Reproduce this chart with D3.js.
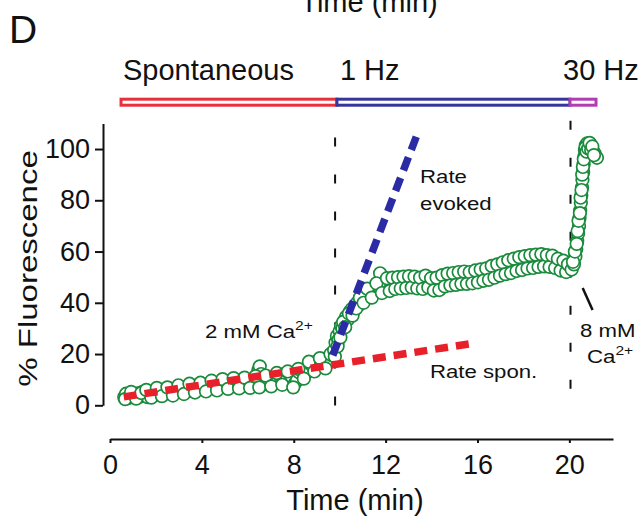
<!DOCTYPE html>
<html lang="en">
<head>
<meta charset="UTF-8">
<title>Fluorescence vs time</title>
<script src="https://d3js.org/d3.v7.min.js"></script>
<style>
  body, html { margin: 0; background: #fff; }
  svg { display: block; font-family: 'Liberation Sans', Arial, sans-serif; }
  .axis path, .axis line { stroke: #111; stroke-width: 2; }
  .axis text { font-family: 'Liberation Sans', Arial, sans-serif; font-size: 27px; fill: #111; }
  .lbl { fill: #111; }
</style>
</head>
<body>
<svg id="chart" width="644" height="516"></svg>
<script>
// stimulation phases (minutes)
const phaseNames = ["Spontaneous", "1 Hz", "30 Hz"];
const phaseStart = [0.48, 9.88, 20.03];
const phaseEnd = [9.88, 20.03, 21.16];
const phaseColors = ["#e8303c", "#35359c", "#b23cb4"];

// Ca2+ change markers (minutes)
const markerTimes = [9.8, 20.05];

// fitted rates: [time, % fluorescence]
const rateSpon = [[0.6, 3.3], [15.9, 24.3]];
const rateEvoked = [[9.7, 19.5], [13.42, 106.8]];

const yTicks = [0, 20, 40, 60, 80, 100];
const xTicks = [0, 4, 8, 12, 16, 20];

// measured fluorescence: [time (min), %]
const spontaneous = [
  [0.62, 3.2], [0.7, 4.5], [0.78, 2.8], [0.88, 3.6], [0.98, 4.2], [1.08, 3.0], [1.2, 4.6], [1.3, 3.4],
  [1.42, 5.2], [1.52, 4.0], [1.64, 3.2], [1.75, 5.0], [1.86, 4.4], [1.98, 5.8], [2.1, 4.2], [2.2, 5.4],
  [2.32, 6.0], [2.44, 4.6], [2.56, 5.6], [2.68, 6.4], [2.8, 5.0], [2.92, 6.2], [3.04, 7.2], [3.16, 5.6],
  [3.28, 6.6], [3.4, 7.6], [3.52, 5.8], [3.64, 6.8], [3.76, 7.8], [3.88, 6.4], [4.0, 7.2], [4.12, 8.2],
  [4.24, 6.6], [4.36, 7.6], [4.48, 8.6], [4.6, 7.0], [4.72, 8.0], [4.84, 9.0], [4.96, 7.4], [5.08, 8.4],
  [5.2, 9.2], [5.32, 7.8], [5.44, 8.8], [5.56, 9.6], [5.68, 8.2], [5.8, 9.0], [5.92, 7.6], [6.04, 8.6],
  [6.16, 9.8], [6.28, 8.4], [6.38, 10.6], [6.46, 13.8], [6.52, 15.2], [6.58, 12.2], [6.64, 10.0], [6.72, 8.2],
  [6.84, 10.4], [6.96, 9.2], [7.08, 10.8], [7.2, 11.6], [7.32, 9.8], [7.44, 11.2], [7.56, 12.2], [7.68, 10.6],
  [7.8, 12.4], [7.92, 11.0], [8.04, 8.4], [8.14, 9.6], [8.24, 12.8], [8.36, 13.6], [8.48, 12.0], [8.6, 14.6],
  [8.72, 16.2], [8.84, 15.0], [8.96, 17.0], [9.08, 15.6], [9.2, 17.6], [9.32, 16.4], [9.44, 18.4], [9.56, 17.2],
  [9.66, 19.6],
  [0.66, 2.4], [0.92, 5.2], [1.14, 2.6], [1.36, 4.8], [1.58, 6.0], [1.8, 3.0], [2.04, 6.8], [2.26, 3.6],
  [2.5, 7.0], [2.74, 3.8], [2.98, 7.8], [3.22, 4.4], [3.46, 8.4], [3.7, 5.0], [3.94, 8.8], [4.18, 5.4],
  [4.42, 9.6], [4.66, 5.8], [4.9, 10.2], [5.14, 6.4], [5.38, 10.6], [5.62, 6.6], [5.86, 10.8], [6.1, 6.8],
  [6.34, 11.4], [6.5, 7.0], [6.78, 11.6], [7.02, 7.4], [7.26, 12.6], [7.5, 8.0], [7.74, 13.2], [7.98, 7.0],
  [8.2, 14.2], [8.44, 10.4], [8.66, 17.0], [8.9, 13.2], [9.14, 18.4], [9.38, 14.4], [9.6, 20.0]
];
const evoked1Hz = [
  [9.76, 21.5], [9.82, 24.5], [9.88, 27.0], [9.94, 25.5], [10.0, 29.0], [10.06, 31.0], [10.12, 30.0], [10.2, 33.0],
  [10.28, 34.5], [10.36, 33.5], [10.44, 36.5], [10.52, 37.5], [10.6, 36.8], [10.68, 39.0], [10.76, 40.0], [10.84, 39.2],
  [10.92, 41.5], [11.0, 42.2], [11.08, 41.0], [11.16, 43.5], [11.26, 44.0], [11.36, 43.2], [11.46, 45.2], [11.56, 44.4],
  [11.66, 46.0], [11.76, 51.5], [11.8, 45.0], [11.9, 46.6], [12.0, 45.6], [12.12, 47.2], [12.24, 46.0], [12.36, 47.8],
  [12.48, 46.6], [12.6, 48.2], [12.72, 47.0], [12.84, 48.6], [12.96, 47.4], [13.08, 49.0], [13.2, 47.6], [13.32, 48.8],
  [13.44, 46.8], [13.56, 48.4], [13.68, 47.2], [13.8, 49.2], [13.92, 47.8], [14.04, 46.4], [14.16, 48.2], [14.28, 46.6],
  [14.4, 47.8], [14.52, 49.4], [14.64, 48.0], [14.76, 50.0], [14.88, 48.4], [15.0, 49.8], [15.12, 48.2], [15.24, 50.4],
  [15.36, 49.0], [15.48, 50.6], [15.6, 48.8], [15.72, 50.2], [15.84, 49.2], [15.96, 50.8], [16.08, 49.4], [16.2, 51.0],
  [16.32, 50.0], [16.44, 51.6], [16.56, 50.4], [16.68, 52.4], [16.8, 51.2], [16.92, 53.2], [17.04, 52.0], [17.16, 54.0],
  [17.28, 52.6], [17.4, 54.4], [17.52, 53.2], [17.64, 55.0], [17.76, 53.8], [17.88, 55.6], [18.0, 54.2], [18.12, 56.2],
  [18.24, 55.0], [18.36, 56.8], [18.48, 55.4], [18.6, 57.0], [18.72, 55.6], [18.84, 57.2], [18.96, 55.8], [19.08, 56.8],
  [19.2, 55.4], [19.32, 57.0], [19.44, 55.0], [19.56, 54.0], [19.68, 55.2], [19.8, 53.4], [19.9, 54.2], [19.98, 52.6],
  [9.79, 19.0], [9.91, 23.0], [10.03, 26.5], [10.15, 32.5], [10.24, 30.5], [10.4, 35.8], [10.56, 35.0], [10.72, 37.8],
  [10.88, 42.0], [11.04, 40.0], [11.2, 45.5], [11.4, 42.0], [11.6, 47.6], [11.84, 43.8],
  [12.06, 49.6], [12.18, 44.6], [12.3, 49.8], [12.42, 45.4], [12.54, 50.0], [12.66, 45.6], [12.78, 50.2], [12.9, 45.8],
  [13.02, 50.4], [13.14, 46.0], [13.26, 50.2], [13.38, 45.6], [13.5, 49.8], [13.62, 45.4], [13.74, 50.6], [13.86, 46.0],
  [13.98, 49.6], [14.1, 44.8], [14.22, 49.8], [14.34, 45.0], [14.46, 50.8], [14.58, 46.4], [14.7, 51.4], [14.82, 46.8],
  [14.94, 51.6], [15.06, 47.0], [15.18, 52.0], [15.3, 47.4], [15.42, 52.2], [15.54, 47.4], [15.66, 52.0], [15.78, 47.6],
  [15.9, 52.6], [16.02, 48.0], [16.14, 53.0], [16.26, 48.6], [16.38, 53.4], [16.5, 49.0], [16.62, 54.4], [16.74, 49.8],
  [16.86, 55.0], [16.98, 50.6], [17.1, 55.8], [17.22, 51.2], [17.34, 56.6], [17.46, 51.6], [17.58, 57.2], [17.7, 52.4],
  [17.82, 57.8], [17.94, 52.8], [18.06, 58.2], [18.18, 53.4], [18.3, 58.6], [18.42, 53.6], [18.54, 58.8], [18.66, 54.0],
  [18.78, 59.0], [18.9, 54.2], [19.02, 58.6], [19.14, 54.0], [19.26, 58.4], [19.38, 53.6], [19.5, 57.2], [19.62, 52.6],
  [19.74, 56.4], [19.86, 52.0], [19.94, 55.0]
];
const evoked30Hz = [
  [20.1, 53.0], [20.2, 55.0], [20.26, 58.0], [20.3, 61.0], [20.34, 64.0], [20.38, 67.0], [20.42, 70.0], [20.44, 73.0],
  [20.47, 76.0], [20.5, 79.0], [20.52, 82.0], [20.55, 85.0], [20.57, 88.0], [20.6, 91.0], [20.62, 94.0], [20.65, 97.0],
  [20.68, 99.5], [20.72, 101.5], [20.78, 102.2], [20.85, 101.0], [20.92, 101.8], [20.98, 100.4], [21.04, 99.0],
  [21.1, 98.2], [21.2, 96.6],
  [20.16, 56.0], [20.24, 60.0], [20.32, 63.0], [20.36, 68.0], [20.4, 72.0], [20.46, 75.0], [20.49, 81.0], [20.53, 84.0],
  [20.56, 90.0], [20.59, 93.0], [20.63, 96.0], [20.7, 100.5], [20.75, 99.0], [20.82, 100.2], [20.88, 102.4], [20.95, 99.6],
  [21.0, 101.0], [21.07, 97.6]
];

const svg = d3.select("#chart");
const x = d3.scaleLinear().domain([0, 21.9]).range([110, 613]);
const y = d3.scaleLinear().domain([0, 110]).range([405.3, 123.4]);

// panel letter and clipped title from panel above
svg.append("text").attr("class", "lbl").attr("x", 9).attr("y", 43)
  .style("font-size", "39px").text("D");
svg.append("text").attr("class", "lbl").attr("x", 369).attr("y", 12)
  .attr("text-anchor", "middle").style("font-size", "29px").text("Time (min)");

// phase bars + labels
const labelShift = [2, 3, -7];
phaseNames.forEach((name, i) => {
  svg.append("rect")
    .attr("x", x(phaseStart[i])).attr("y", 99.2)
    .attr("width", x(phaseEnd[i]) - x(phaseStart[i])).attr("height", 6)
    .attr("fill", "#fff").attr("stroke", phaseColors[i]).attr("stroke-width", 3);
  svg.append("text").attr("class", "lbl")
    .attr("x", x(phaseStart[i]) + labelShift[i]).attr("y", 80)
    .style("font-size", "29px").text(name);
});

// dashed markers
svg.selectAll("line.marker").data(markerTimes).enter().append("line")
  .attr("class", "marker")
  .attr("x1", d => x(d)).attr("x2", d => x(d))
  .attr("y1", (d, i) => i === 0 ? y(104.5) : y(111)).attr("y2", y(-1))
  .attr("stroke", "#111").attr("stroke-width", 2).attr("stroke-dasharray", "9,28");

// axes
svg.append("g").attr("class", "axis")
  .attr("transform", "translate(103,0)")
  .call(d3.axisLeft(y).tickValues(yTicks).tickSize(8).tickSizeOuter(0).tickPadding(5));
svg.append("g").attr("class", "axis")
  .attr("transform", "translate(0,439)")
  .call(d3.axisBottom(x).tickValues(xTicks).tickSize(4).tickSizeOuter(0).tickPadding(12));

svg.append("text").attr("class", "lbl")
  .attr("transform", "translate(37,268.5) rotate(-90) scale(1.32,1)")
  .attr("text-anchor", "middle").style("font-size", "25px").text("% Fluorescence");
svg.append("text").attr("class", "lbl").attr("x", 355).attr("y", 510)
  .attr("text-anchor", "middle").style("font-size", "29px").text("Time (min)");

// data points
const allPoints = spontaneous.concat(evoked1Hz, evoked30Hz);
svg.append("g").selectAll("circle").data(allPoints).enter().append("circle")
  .attr("cx", d => x(d[0])).attr("cy", d => y(d[1])).attr("r", 6.3)
  .attr("fill", "#fff").attr("stroke", "#1a8a3c").attr("stroke-width", 1.7);

// rate lines
const line = d3.line().x(d => x(d[0])).y(d => y(d[1]));
svg.append("path").datum(rateSpon).attr("d", line)
  .attr("fill", "none").attr("stroke", "#e8202a").attr("stroke-width", 7.5).attr("stroke-dasharray", "13,8");
svg.append("path").datum(rateEvoked).attr("d", line)
  .attr("fill", "none").attr("stroke", "#2b2ba6").attr("stroke-width", 7.5).attr("stroke-dasharray", "14,8");

// annotations (slightly wide lettering)
function note(t, v, str, sup) {
  const txt = svg.append("text").attr("class", "lbl")
    .attr("transform", `translate(${x(t)},${y(v)}) scale(1.2,1)`)
    .style("font-size", "18.5px").text(str);
  if (sup) txt.append("tspan").attr("dy", -8).style("font-size", "13px").text(sup);
}
note(4.14, 26.2, "2 mM Ca", "2+");
note(13.5, 86.7, "Rate");
note(13.5, 76.2, "evoked");
note(13.93, 10.65, "Rate spon.");
note(20.46, 26.6, "8 mM");
note(20.77, 16.5, "Ca", "2+");

svg.append("line")
  .attr("x1", x(20.58)).attr("y1", y(45.8)).attr("x2", x(21.01)).attr("y2", y(37.2))
  .attr("stroke", "#111").attr("stroke-width", 2.5);
</script>
</body>
</html>
